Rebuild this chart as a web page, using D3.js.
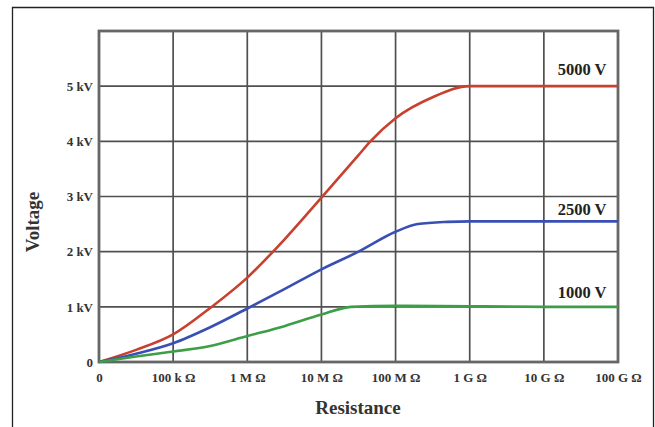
<!DOCTYPE html>
<html><head><meta charset="utf-8">
<script src="https://cdn.jsdelivr.net/npm/d3@7"></script>
<style>body{margin:0;background:#fff}svg{display:block}</style>
</head><body>
<svg id="c" width="655" height="427"></svg>
<script>
const xTickLabels = ["0", "100 k Ω", "1 M Ω", "10 M Ω", "100 M Ω", "1 G Ω", "10 G Ω", "100 G Ω"];
const yTickValues = [0, 1, 2, 3, 4, 5];
const yTickLabels = ["0", "1 kV", "2 kV", "3 kV", "4 kV", "5 kV"];
const seriesNames = ["5000 V", "2500 V", "1000 V"];
const seriesColors = ["#c8402e", "#3a4fb4", "#3c9f48"];
// x in decade-index units (0 = 0, 1 = 100k, ... 7 = 100G), y in kV
const red5000 = [[0,0],[0.5,0.22],[1,0.5],[1.5,0.98],[2,1.53],[2.5,2.22],[3,2.98],[3.5,3.75],[3.66,4.0],[4,4.42],[4.5,4.8],[5,5.0],[6,5.0],[7,5.0]];
const blue2500 = [[0,0],[0.5,0.15],[1,0.34],[1.5,0.63],[2,0.97],[2.5,1.32],[3,1.68],[3.5,2.0],[4,2.36],[4.3,2.5],[4.7,2.54],[5,2.55],[6,2.55],[7,2.55]];
const green1000 = [[0,0],[0.5,0.1],[1,0.19],[1.5,0.29],[2,0.47],[2.5,0.65],[3,0.86],[3.4,1.0],[4,1.02],[5,1.01],[6,1.0],[7,1.0]];
const seriesData = [red5000, blue2500, green1000];
const labelY = [5.2, 2.66, 1.16];

const svg = d3.select("#c");
const L = 99, R = 618, T = 31, B = 362;
const x = d3.scaleLinear().domain([0, 7]).range([L, R]);
const y = d3.scaleLinear().domain([0, 6]).range([B, T]);
const serif = "'Liberation Serif','DejaVu Serif',serif";

// outer frame
svg.append("path").attr("d", `M12.5,430 V7.5 H653.5 V430`).attr("fill","none").attr("stroke","#222").attr("stroke-width",1.3);

// gridlines
const g = svg.append("g");
g.selectAll(".vg").data(d3.range(1, 7)).join("line")
  .attr("x1", d => x(d)).attr("x2", d => x(d)).attr("y1", T).attr("y2", B)
  .attr("stroke", "#505050").attr("stroke-width", 1.7);
g.selectAll(".hg").data(yTickValues.filter(v => v > 0)).join("line")
  .attr("x1", L).attr("x2", R).attr("y1", d => y(d)).attr("y2", d => y(d))
  .attr("stroke", "#505050").attr("stroke-width", 1.7);

// plot frame
svg.append("rect").attr("x", L).attr("y", T).attr("width", R - L).attr("height", B - T)
  .attr("fill", "none").attr("stroke", "#666").attr("stroke-width", 2.8);

// lines
const line = d3.line().x(d => x(d[0])).y(d => y(d[1])).curve(d3.curveMonotoneX);
seriesData.forEach((s, i) => {
  svg.append("path").datum(s).attr("d", line).attr("fill", "none")
    .attr("stroke", seriesColors[i]).attr("stroke-width", 2.6).attr("stroke-linejoin","round");
});

// series labels
seriesNames.forEach((n, i) => {
  svg.append("text").attr("x", 582).attr("y", y(labelY[i])).attr("text-anchor", "middle")
    .attr("font-family", serif).attr("font-weight", "bold").attr("font-size", 16.5).attr("fill", "#222").text(n);
});

// y tick labels
const yAxis = d3.axisLeft(y).tickValues(yTickValues).tickFormat((d, i) => yTickLabels[i]).tickSize(0).tickPadding(6);
const ya = svg.append("g").attr("transform", `translate(${L},0)`).call(yAxis);
ya.select(".domain").remove();
ya.selectAll("text").attr("font-family", serif).attr("font-weight", "bold").attr("font-size", 13).attr("fill", "#333");

// x tick labels
const xAxis = d3.axisBottom(x).tickValues(d3.range(0, 8)).tickFormat((d, i) => xTickLabels[i]).tickSize(0).tickPadding(11);
const xa = svg.append("g").attr("transform", `translate(0,${B})`).call(xAxis);
xa.select(".domain").remove();
xa.selectAll("text").attr("font-family", serif).attr("font-weight", "bold").attr("font-size", 13).attr("fill", "#333");

// axis titles
svg.append("text").attr("transform", `translate(39,222) rotate(-90)`).attr("text-anchor", "middle")
  .attr("font-family", serif).attr("font-weight", "bold").attr("font-size", 19).attr("fill", "#333").text("Voltage");
svg.append("text").attr("x", 358).attr("y", 414).attr("text-anchor", "middle")
  .attr("font-family", serif).attr("font-weight", "bold").attr("font-size", 19).attr("fill", "#333").text("Resistance");
</script>
</body></html>
